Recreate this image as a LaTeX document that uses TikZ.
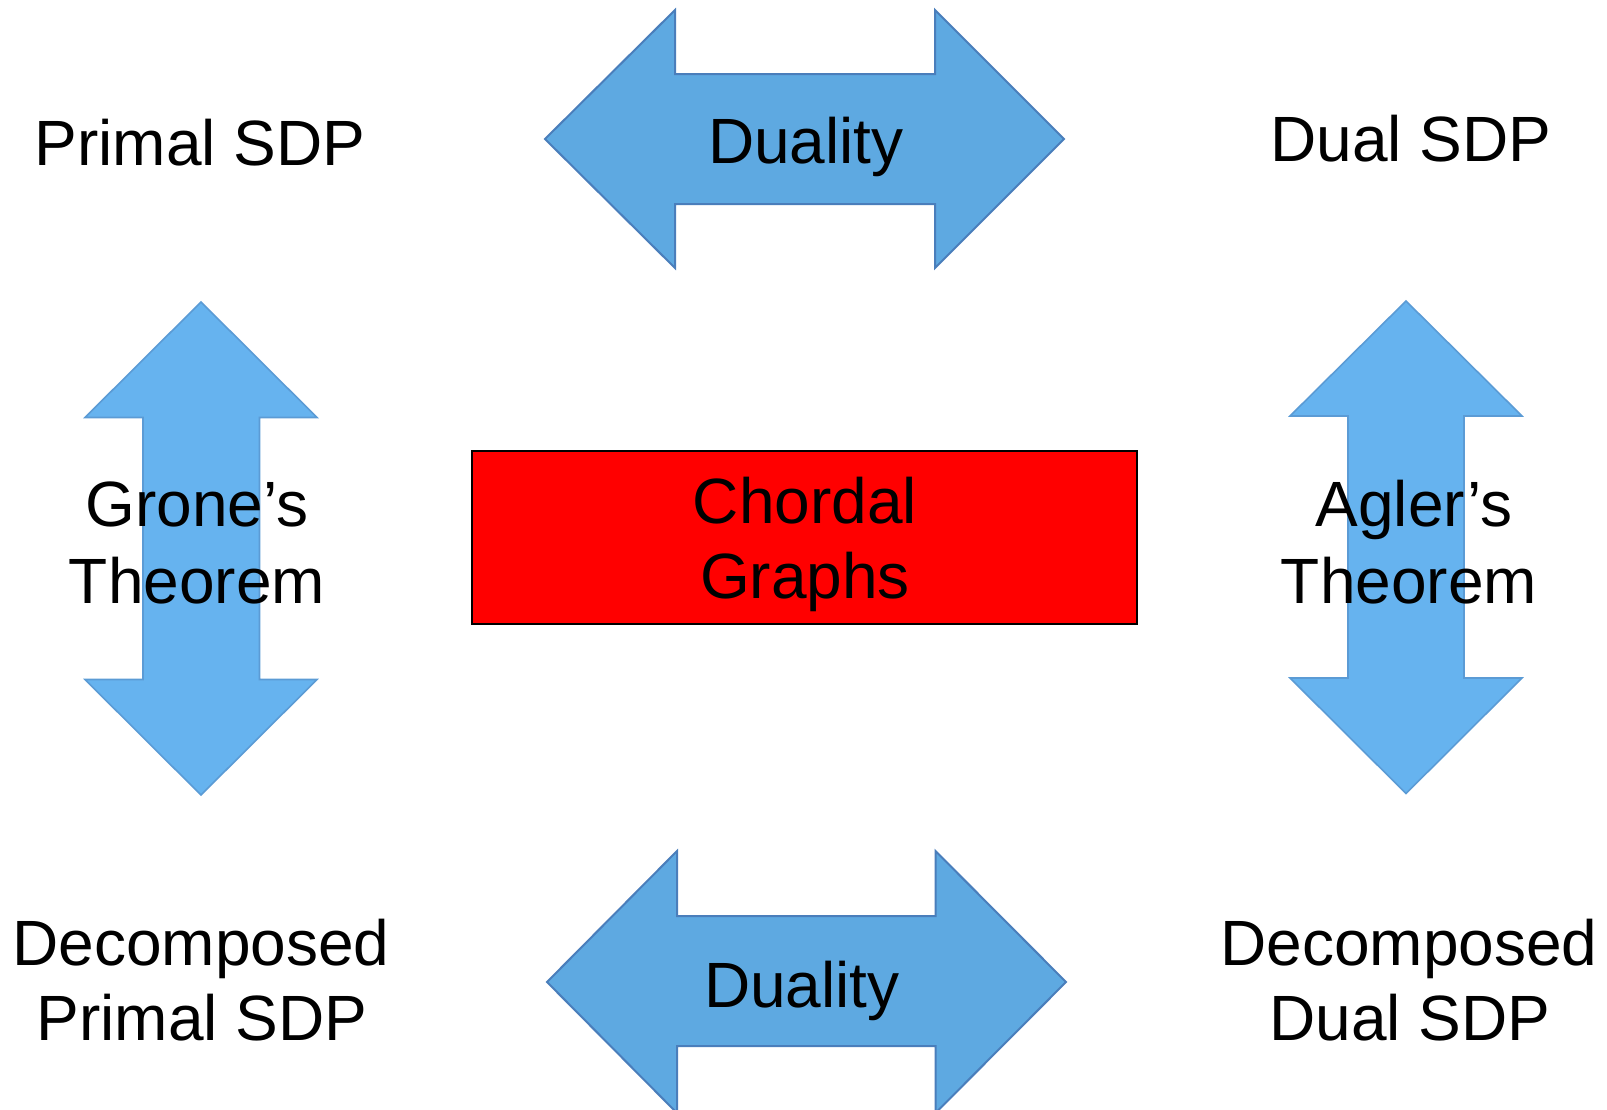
\documentclass[tikz,border=0pt]{standalone}
\usepackage{fontspec}
\setmainfont{Liberation Sans}
\definecolor{hfill}{HTML}{5EA9E1}
\definecolor{hline}{HTML}{4A7EBB}
\definecolor{vfill}{HTML}{66B3EF}
\definecolor{vline}{HTML}{5B9BD5}
\begin{document}
\begin{tikzpicture}[x=1pt,y=-1pt,
  harrow/.style={fill=hfill,draw=hline,line width=2pt,line join=miter},
  varrow/.style={fill=vfill,draw=vline,line width=1.6pt,line join=miter},
  lbl/.style={inner sep=0pt,anchor=base,font=\fontsize{64}{76}\selectfont},
  redbox/.style={fill=red,draw=black,line width=2pt,inner sep=0pt}]
\useasboundingbox (0,0) rectangle (1607,1109);
\clip (0,0) rectangle (1607,1109);
% top horizontal double arrow
\draw[harrow] (545,139) -- (675,10) -- (675,74) -- (935,74) -- (935,10) -- (1064,139)
  -- (935,268) -- (935,204) -- (675,204) -- (675,268) -- cycle;
% bottom horizontal double arrow
\draw[harrow] (547,982) -- (677,851) -- (677,916) -- (935.5,916) -- (935.5,851) -- (1066,982)
  -- (935.5,1113) -- (935.5,1046) -- (677,1046) -- (677,1113) -- cycle;
% left vertical double arrow
\draw[varrow] (201,302) -- (317,417.5) -- (259.5,417.5) -- (259.5,679.5) -- (317,679.5)
  -- (201,795) -- (85,679.5) -- (143,679.5) -- (143,417.5) -- (85,417.5) -- cycle;
% right vertical double arrow
\draw[varrow] (1406,301) -- (1522,416) -- (1464,416) -- (1464,678) -- (1522,678)
  -- (1406,793.5) -- (1290,678) -- (1348,678) -- (1348,416) -- (1290,416) -- cycle;
% red box
\node[redbox,minimum width=665pt,minimum height=173pt] (box) at (804.5,537) {};
% labels
\node[lbl] (primal) at (200,165) {Primal SDP};
\node[lbl] (dual) at (1411,161) {Dual SDP};
\node[lbl] (duality1) at (806,163) {Duality};
\node[lbl] (duality2) at (802,1007) {Duality};
\node[lbl] (grone1) at (197,526) {Grone’s};
\node[lbl] (grone2) at (197,603) {Theorem};
\node[lbl] (agler1) at (1414,526) {Agler’s};
\node[lbl] (agler2) at (1409,603) {Theorem};
\node[lbl] (chordal1) at (805,523) {Chordal};
\node[lbl] (chordal2) at (805,598) {Graphs};
\node[lbl] (dec1) at (201,965) {Decomposed};
\node[lbl] (dec2) at (202,1040) {Primal SDP};
\node[lbl] (dec3) at (1409,965) {Decomposed};
\node[lbl] (dec4) at (1410,1040) {Dual SDP};
\end{tikzpicture}
\end{document}
